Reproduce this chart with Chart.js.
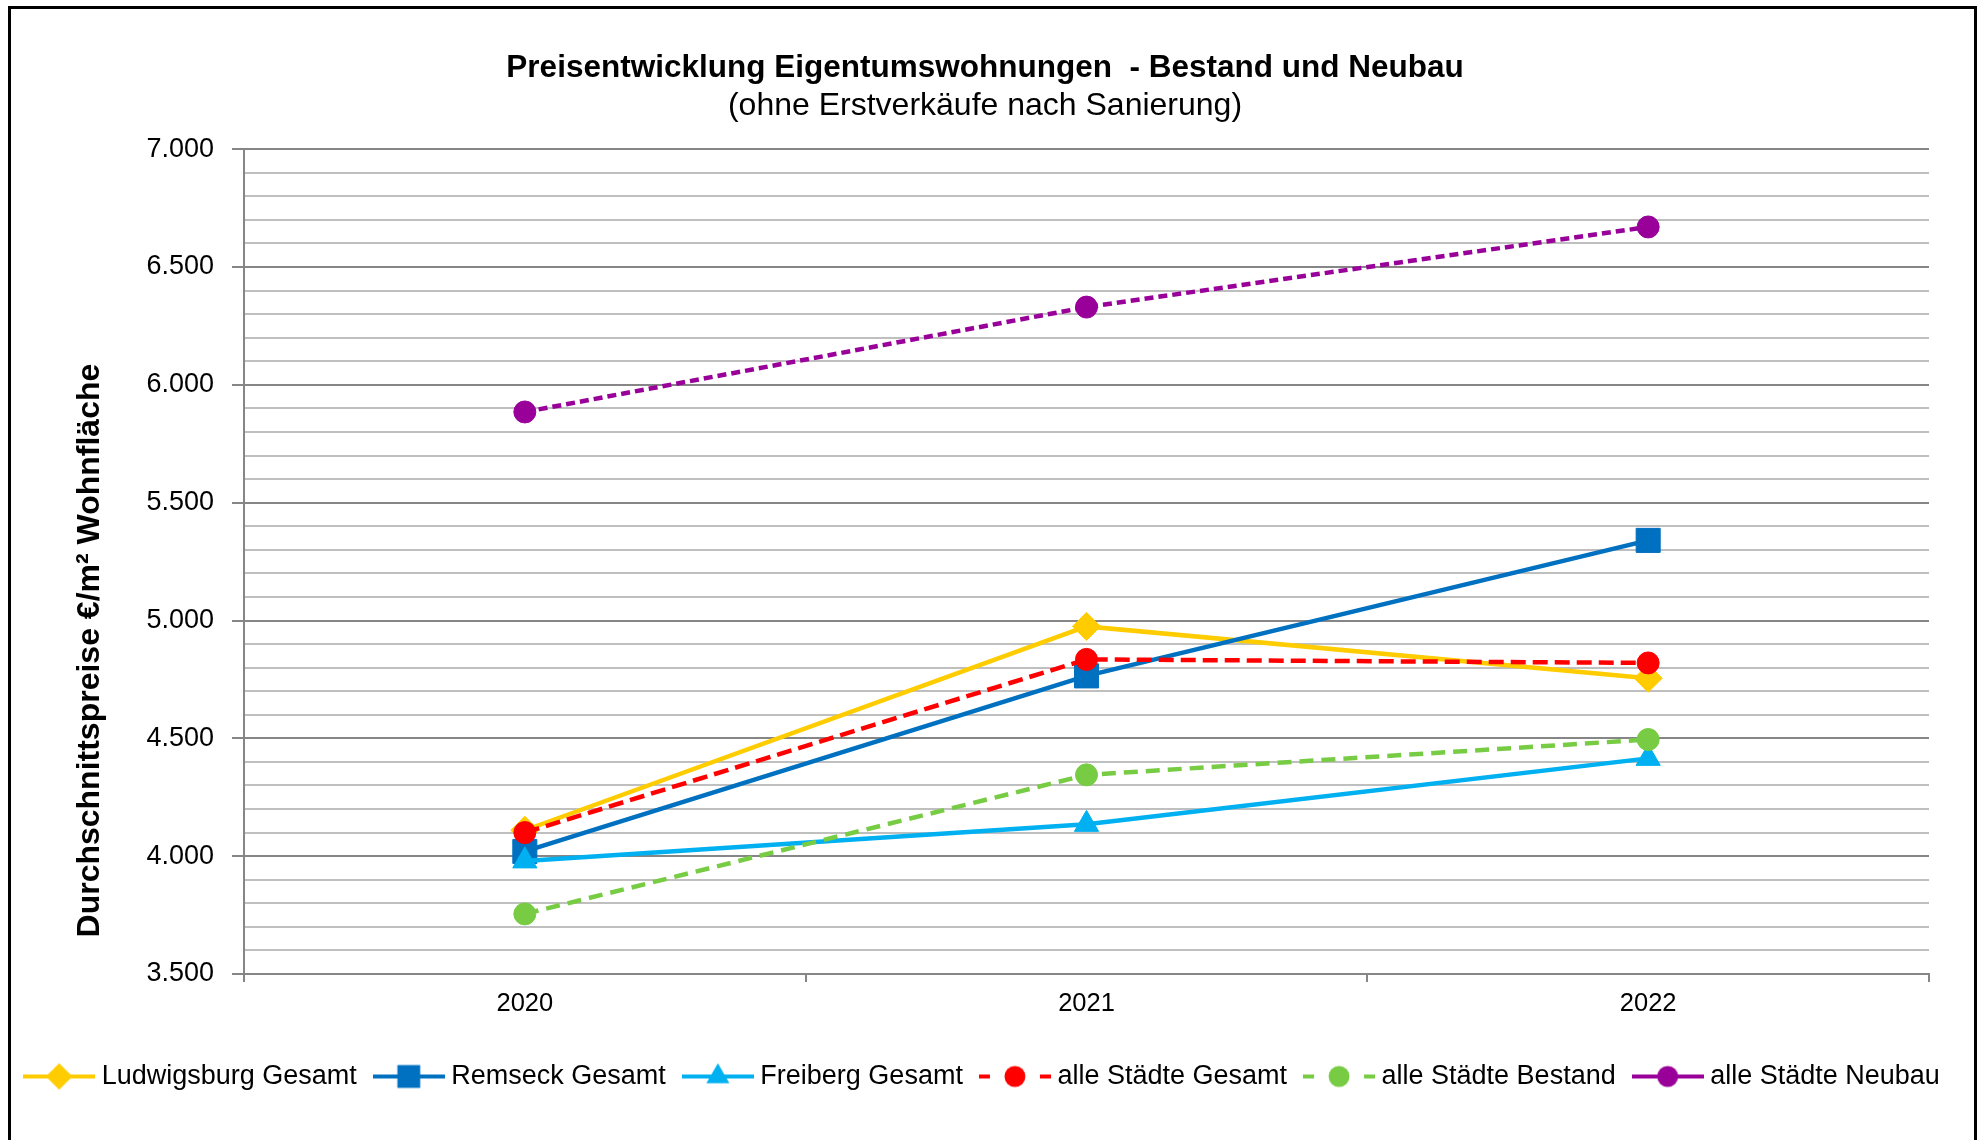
<!DOCTYPE html>
<html lang="de">
<head>
<meta charset="utf-8">
<title>Preisentwicklung Eigentumswohnungen</title>
<script src="https://cdn.jsdelivr.net/npm/chart.js@4.4.1/dist/chart.umd.min.js"></script>
<style>
  html, body { margin: 0; padding: 0; background: #fff; overflow: hidden; }
  #wrap { position: absolute; left: 0; top: 0; width: 1981px; height: 1140px; }
  #frame {
    position: absolute; left: 8px; top: 6px; width: 1963px; height: 1200px;
    border: 3px solid #000; border-bottom: none; pointer-events: none;
  }
</style>
</head>
<body>
<div id="wrap"><canvas id="priceChart"></canvas></div>
<div id="frame"></div>
<script>
// Werte (€/m² Wohnfläche)
const years = ['2020', '2021', '2022'];
const ludwigsburg = [4110, 4975, 4755];
const remseck = [4020, 4765, 5340];
const freiberg = [3980, 4135, 4415];
const alleGesamt = [4100, 4835, 4820];
const alleBestand = [3755, 4345, 4495];
const alleNeubau = [5885, 6330, 6670];

const seriesNames = ['Ludwigsburg Gesamt', 'Remseck Gesamt', 'Freiberg Gesamt',
  'alle Städte Gesamt', 'alle Städte Bestand', 'alle Städte Neubau'];

const chartTitle = 'Preisentwicklung Eigentumswohnungen  - Bestand und Neubau';
const chartSubtitle = '(ohne Erstverkäufe nach Sanierung)';
const yTitle = 'Durchschnittspreise €/m² Wohnfläche';

const FONT = '"Liberation Sans", Arial, sans-serif';

// format 7000 -> "7.000"
const fmt = (v) => Math.floor(v / 1000) + '.' + String(v % 1000).padStart(3, '0');

// legend symbol: short line with the marker in the middle
const legendSymbol = (color, dashed, shape, r) => {
  const cv = document.createElement('canvas');
  cv.width = 72;
  cv.height = 34;
  const g = cv.getContext('2d');
  const cy = 17, cx = 36;
  g.strokeStyle = color;
  g.lineWidth = 4;
  if (dashed) g.setLineDash([11, 50]);
  g.beginPath();
  g.moveTo(0, cy);
  g.lineTo(72, cy);
  g.stroke();
  g.setLineDash([]);
  g.fillStyle = color;
  g.beginPath();
  if (shape === 'rectRot') {
    g.moveTo(cx, cy - r); g.lineTo(cx + r, cy); g.lineTo(cx, cy + r); g.lineTo(cx - r, cy);
  } else if (shape === 'rect') {
    const s = r * Math.SQRT1_2;
    g.rect(cx - s, cy - s, 2 * s, 2 * s);
  } else if (shape === 'triangle') {
    g.moveTo(cx, cy - r);
    g.lineTo(cx + r * Math.sin(2 * Math.PI / 3), cy - r * Math.cos(2 * Math.PI / 3));
    g.lineTo(cx + r * Math.sin(4 * Math.PI / 3), cy - r * Math.cos(4 * Math.PI / 3));
  } else {
    g.arc(cx, cy, r, 0, Math.PI * 2);
  }
  g.closePath();
  g.fill();
  return cv;
};

const makeSet = (i, data, color, shape, radius, dash, legendDashed) => ({
  label: seriesNames[i],
  data: data,
  borderColor: color,
  backgroundColor: color,
  borderWidth: 4.5,
  borderDash: dash,
  pointStyle: shape,
  pointRadius: radius,
  pointBorderWidth: 1,
  pointBorderColor: color,
  pointBackgroundColor: color,
  tension: 0,
  order: 6 - i,
  legendSymbol: legendSymbol(color, legendDashed, shape, radius * 0.95)
});

const datasets = [
  makeSet(0, ludwigsburg, '#FFCC00', 'rectRot', 14, [], false),
  makeSet(1, remseck, '#0070C0', 'rect', 17, [], false),
  makeSet(2, freiberg, '#00B0F0', 'triangle', 14, [], false),
  makeSet(3, alleGesamt, '#FF0000', 'circle', 11, [15, 7], true),
  makeSet(4, alleBestand, '#77CC44', 'circle', 11, [14, 8], true),
  makeSet(5, alleNeubau, '#990099', 'circle', 11, [9, 5], false)
];

// rotated y-axis title, placed a bit below the middle like the original
const yTitlePlugin = {
  id: 'yTitle',
  afterDraw(chart) {
    const { ctx, chartArea } = chart;
    ctx.save();
    ctx.translate(90, (chartArea.top + chartArea.bottom) / 2 + 89);
    ctx.rotate(-Math.PI / 2);
    ctx.font = 'bold 32px ' + FONT;
    ctx.fillStyle = '#000';
    ctx.textAlign = 'center';
    ctx.textBaseline = 'middle';
    ctx.fillText(yTitle, 0, 0);
    ctx.restore();
  }
};

const isMajor = (ctx) => ctx.tick && ctx.tick.value % 500 === 0;

new Chart(document.getElementById('priceChart'), {
  type: 'line',
  data: { labels: years, datasets: datasets },
  plugins: [yTitlePlugin],
  options: {
    responsive: true,
    maintainAspectRatio: false,
    animation: false,
    events: [],
    layout: { padding: { left: 5, right: 16, top: 0, bottom: 40 } },
    plugins: {
      title: {
        display: true,
        text: chartTitle,
        color: '#000',
        font: { family: FONT, size: 31.5, weight: 'bold' },
        padding: { top: 49, bottom: 0 }
      },
      subtitle: {
        display: true,
        text: chartSubtitle,
        color: '#000',
        font: { family: FONT, size: 32, weight: 'normal' },
        padding: { top: 0, bottom: 24 }
      },
      legend: {
        position: 'bottom',
        align: 'center',
        labels: {
          usePointStyle: true,
          pointStyleWidth: 58,
          padding: 23,
          color: '#000',
          font: { family: FONT, size: 27 },
          generateLabels: (chart) => chart.data.datasets.map((ds, i) => ({
            text: ds.label,
            pointStyle: ds.legendSymbol,
            fillStyle: ds.borderColor,
            strokeStyle: ds.borderColor,
            lineWidth: 0,
            fontColor: '#000',
            hidden: false,
            datasetIndex: i
          }))
        }
      },
      tooltip: { enabled: false }
    },
    scales: {
      x: {
        offset: true,
        grid: {
          offset: true,
          drawOnChartArea: false,
          color: '#868686',
          lineWidth: 2,
          tickLength: 8
        },
        border: { color: '#868686', width: 2 },
        ticks: { color: '#000', padding: 7, font: { family: FONT, size: 25.5 } },
        afterFit: (s) => { s.height = 66; }
      },
      y: {
        min: 3500,
        max: 7000,
        grid: {
          color: (ctx) => isMajor(ctx) ? '#868686' : '#BFBFBF',
          lineWidth: 2,
          tickColor: (ctx) => isMajor(ctx) ? '#868686' : 'rgba(0,0,0,0)',
          tickLength: 12,
          tickWidth: 2
        },
        border: { color: '#868686', width: 2 },
        ticks: {
          stepSize: 100,
          maxTicksLimit: 100,
          autoSkip: false,
          padding: 18,
          color: '#000',
          font: { family: FONT, size: 27 },
          callback: (v) => v % 500 === 0 ? fmt(v) : ''
        },
        afterFit: (s) => { s.width = 239; }
      },
      y2: {
        position: 'right',
        display: true,
        grid: { display: false },
        border: { display: false },
        ticks: { display: false },
        afterFit: (s) => { s.width = 36; }
      }
    }
  }
});
</script>
</body>
</html>
